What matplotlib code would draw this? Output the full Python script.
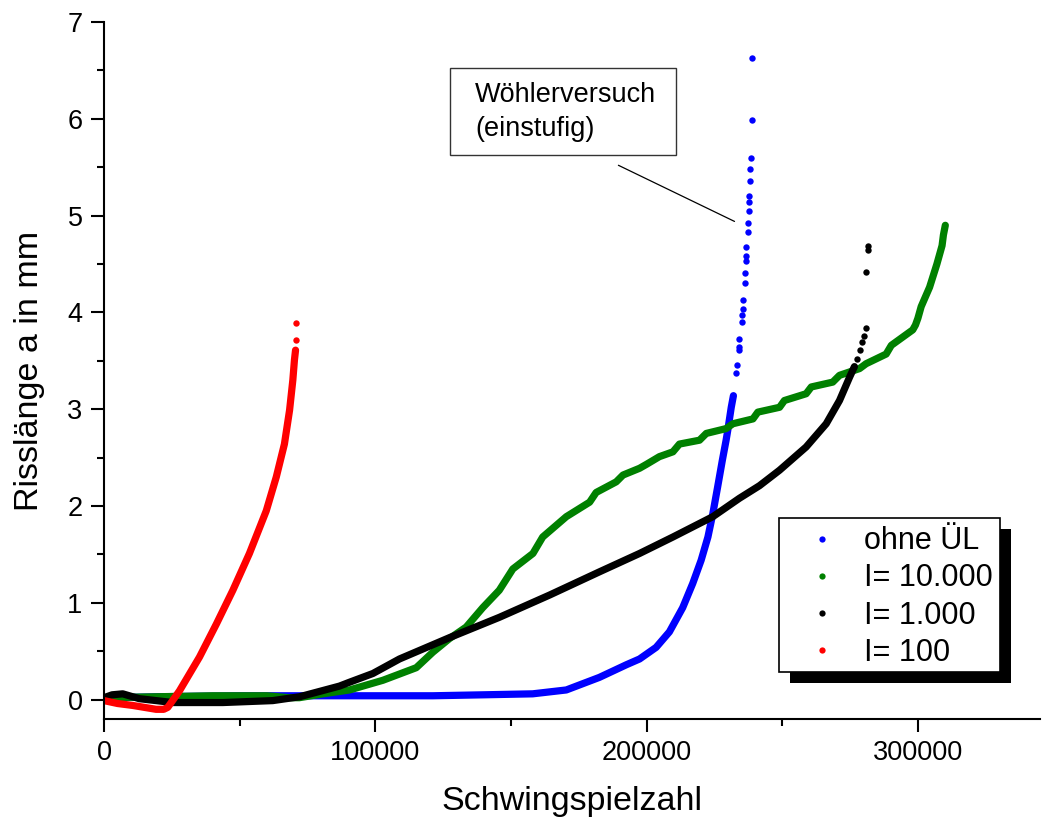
import matplotlib
matplotlib.use('Agg')
import matplotlib.pyplot as plt
from matplotlib.lines import Line2D
from matplotlib.patches import Rectangle
from matplotlib.ticker import MultipleLocator

plt.rcParams['font.family'] = ['Liberation Sans', 'DejaVu Sans']

# Risslänge über Schwingspielzahl, dichte Messreihen + einzelne Endpunkte
blue_x = [0, 5000, 20000, 50000, 80000, 100000, 121200, 140000, 158000, 170400,
          182600, 192500, 197400, 203500, 208400, 213300, 217000, 220100, 222600,
          224400, 226200, 227900, 229300, 229900, 231200, 232000]
blue_y = [0.0, 0.02, 0.03, 0.04, 0.04, 0.04, 0.04, 0.05, 0.06, 0.10,
          0.23, 0.36, 0.42, 0.54, 0.70, 0.95, 1.20, 1.44, 1.68,
          1.92, 2.20, 2.47, 2.68, 2.78, 3.02, 3.14]
blue_tail_x = [233000, 233400, 233900, 233900, 234200, 235100, 235100, 235500, 235700,
               236100, 236300, 236500, 236700, 236800, 237300, 237400, 237600, 237800,
               237800, 238000, 238200, 238300, 238800, 238900]
blue_tail_y = [3.37, 3.46, 3.61, 3.64, 3.73, 3.90, 3.97, 4.04, 4.13,
               4.30, 4.41, 4.53, 4.58, 4.68, 4.83, 4.92, 5.05, 5.14,
               5.20, 5.36, 5.48, 5.60, 5.99, 6.63]

green_x = [0, 20000, 40000, 60000, 68000, 72000, 80700, 90500, 102800, 115100,
           121200, 127300, 133500, 139600, 145700, 150700, 158100, 161700, 170400,
           179000, 181400, 188800, 191300, 197400, 199900, 204700, 209700, 212100,
           219500, 222000, 229300, 231800, 239200, 241000, 249000, 250800, 258800,
           260700, 268600, 271100, 278500, 280900, 288300, 290200, 298100, 299100,
           300000, 301200, 304300, 306100, 307000, 307900, 308900, 309400, 310100]
green_y = [0.02, 0.03, 0.04, 0.04, 0.02, 0.02, 0.06, 0.10, 0.20, 0.33,
           0.49, 0.63, 0.75, 0.95, 1.13, 1.35, 1.51, 1.68, 1.89,
           2.04, 2.14, 2.25, 2.32, 2.39, 2.43, 2.51, 2.56, 2.64,
           2.68, 2.75, 2.80, 2.85, 2.90, 2.97, 3.02, 3.09, 3.16,
           3.23, 3.28, 3.35, 3.42, 3.47, 3.57, 3.66, 3.82, 3.87,
           3.94, 4.06, 4.26, 4.42, 4.50, 4.59, 4.69, 4.80, 4.90]
green_tail_x = []
green_tail_y = []

black_x = [0, 3000, 6900, 13000, 25400, 43800, 62200, 72100, 86800, 90500,
           99100, 108900, 127300, 145700, 164200, 182600, 197400, 209700, 224400,
           234200, 241600, 249000, 258800, 266200, 271100, 274800, 276600]
black_y = [0.02, 0.05, 0.06, 0.01, -0.03, -0.03, -0.01, 0.03, 0.14, 0.18,
           0.27, 0.42, 0.64, 0.85, 1.08, 1.32, 1.51, 1.68, 1.89,
           2.08, 2.21, 2.37, 2.61, 2.85, 3.09, 3.33, 3.44]
black_tail_x = [277500, 278500, 279300, 280100, 280700, 280900, 281500, 281500]
black_tail_y = [3.52, 3.61, 3.69, 3.76, 3.84, 4.42, 4.64, 4.69]

red_x = [0, 5000, 10600, 19200, 22000, 23500, 27800, 35200, 41400, 47500,
         53600, 59800, 63500, 66500, 68400, 69600, 70200, 70600]
red_y = [-0.01, -0.04, -0.06, -0.10, -0.10, -0.08, 0.09, 0.44, 0.78, 1.13,
         1.51, 1.95, 2.30, 2.64, 2.99, 3.30, 3.51, 3.61]
red_tail_x = [70800, 70800]
red_tail_y = [3.72, 3.89]

labels = ['ohne ÜL', 'I= 10.000', 'I= 1.000', 'I= 100']
colors = ['#0000ff', '#008000', '#000000', '#ff0000']

series = [
    (blue_x, blue_y, blue_tail_x, blue_tail_y),
    (green_x, green_y, green_tail_x, green_tail_y),
    (black_x, black_y, black_tail_x, black_tail_y),
    (red_x, red_y, red_tail_x, red_tail_y),
]

W, H = 1044, 825
fig = plt.figure(figsize=(W / 100, H / 100), dpi=100)
ax = fig.add_axes([104 / W, 1 - 719 / H, (1040 - 104) / W, (719 - 22) / H])

for (x, y, tx, ty), c in zip(series, colors):
    ax.plot(x, y, color=c, lw=5.2, solid_capstyle='round', solid_joinstyle='round')
    ax.plot(tx, ty, 'o', color=c, ms=4.6, mew=0)

ax.set_xlim(0, 345000)
ax.set_ylim(-0.2, 7)
for s in ['top', 'right']:
    ax.spines[s].set_visible(False)
for s in ['left', 'bottom']:
    ax.spines[s].set_linewidth(1.5)

ax.xaxis.set_major_locator(MultipleLocator(100000))
ax.xaxis.set_minor_locator(MultipleLocator(50000))
ax.yaxis.set_major_locator(MultipleLocator(1))
ax.yaxis.set_minor_locator(MultipleLocator(0.5))
ax.ticklabel_format(axis='x', style='plain', useOffset=False)
ax.tick_params(which='major', direction='out', length=9.4, width=1.5, labelsize=19.5)
ax.tick_params(which='minor', direction='out', length=5, width=1.5)
ax.tick_params(axis='y', pad=6)
ax.tick_params(axis='x', pad=6)

ax.set_xlabel('Schwingspielzahl', fontsize=24.5, labelpad=14)
ax.set_ylabel('Risslänge a in mm', fontsize=24.5, labelpad=16)

# Kommentar zur Wöhlerkurve
ax.add_patch(Rectangle((450 / W, 1 - 155 / H), 226 / W, 87 / H, transform=fig.transFigure,
                       fc='white', ec='#333333', lw=1, zorder=4, clip_on=False))
ax.text(475 / W, 1 - 112 / H, 'Wöhlerversuch\n(einstufig)', transform=fig.transFigure,
        fontsize=19.5, va='center', ha='left', linespacing=1.4, zorder=4.5)
ax.annotate('', xy=(232400, 4.94), xytext=(189600, 5.52),
            arrowprops=dict(arrowstyle='-', lw=0.9, color='black',
                            shrinkA=0, shrinkB=0))

# Legende mit schwarzem Schatten
ax.add_patch(Rectangle((790 / W, 1 - 683 / H), 221 / W, 154 / H, transform=fig.transFigure,
                       fc='black', ec='none', zorder=4.8, clip_on=False))
ax.add_patch(Rectangle((779 / W, 1 - 672 / H), 221 / W, 154 / H, transform=fig.transFigure,
                       fc='white', ec='black', lw=1.2, zorder=4.9, clip_on=False))
handles = [Line2D([], [], marker='o', ls='none', color=c, ms=4.5, mew=0) for c in colors]
leg = ax.legend(handles, labels, loc='center left',
                bbox_to_anchor=(779 / W, 1 - 597 / H), bbox_transform=fig.transFigure,
                borderaxespad=0, fontsize=22, frameon=False,
                handlelength=1.63, handletextpad=0.55, labelspacing=0.23, borderpad=0.6)

fig.savefig('out.png', dpi=100)
